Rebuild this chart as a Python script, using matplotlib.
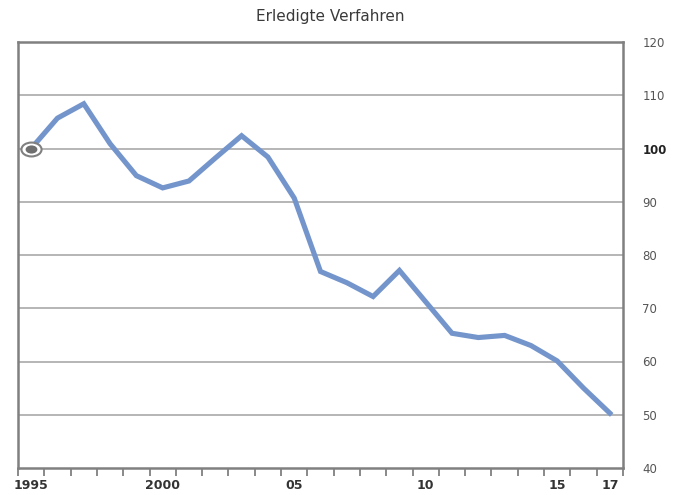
import matplotlib
matplotlib.use("Agg")
import matplotlib.pyplot as plt
import numpy as np
from matplotlib.path import Path
from matplotlib.transforms import Affine2D

plt.rcParams['font.family'] = ['DejaVu Sans']

# data (index, 1995 = 100)
years = list(range(1995, 2018))
values = [100.0, 105.7, 108.4, 100.9, 94.9, 92.6, 93.9, 98.2, 102.4, 98.4,
          90.7, 76.9, 74.8, 72.2, 77.1, 71.2, 65.3, 64.5, 64.9, 63.0,
          60.1, 55.0, 50.3]
year_labels = {1995: "1995", 2000: "2000", 2005: "05", 2010: "10",
               2015: "15", 2017: "17"}
y_ticks = [40, 50, 60, 70, 80, 90, 100, 110, 120]

title = "Erledigte Verfahren"
line_col = "#7395cc"
frame_col = "#808080"
grid_col = "#a9a9a9"
text_col = "#333333"

fig = plt.figure(figsize=(6.84, 4.95), dpi=100)
ax = fig.add_axes([18/684, 1 - 468/495, (623-18)/684, (468-42)/495])

x = np.arange(len(years))
ax.plot(x, values, color=line_col, lw=3.7, solid_joinstyle="miter", zorder=3)

# base-year marker (oval)
oval = Path.unit_circle().transformed(Affine2D().scale(1.45, 1.0))
ax.plot(x[0], values[0], marker=oval, ms=14.5, mfc="white", mec=frame_col,
        mew=1.5, zorder=4, clip_on=False)
ax.plot(x[0], values[0], marker=oval, ms=8.5, mfc="#6f6f6f", mec="none",
        zorder=5, clip_on=False)

ax.set_xlim(-0.5, len(years) - 0.5)
ax.set_ylim(40, 120)

# gridlines
for v in y_ticks[1:-1]:
    ax.axhline(v, color=grid_col, lw=1.2, zorder=1)

for s in ax.spines.values():
    s.set_color(frame_col)
    s.set_linewidth(1.8)

# x ticks: marks at band edges, labels at band centres
ax.set_xticks(np.arange(-0.5, len(years)), minor=True)
ax.tick_params(axis="x", which="minor", length=6, width=1.3, color=frame_col,
               direction="out")
lab_pos = [years.index(y) for y in year_labels]
ax.set_xticks(lab_pos)
ax.set_xticklabels(list(year_labels.values()), fontsize=9, fontweight="bold",
                   color=text_col)
ax.tick_params(axis="x", which="major", length=0, pad=8)

# y labels on the right
ax.yaxis.tick_right()
ax.set_yticks(y_ticks)
ax.set_yticklabels([str(v) for v in y_ticks], fontsize=8.5, color="#555555")
ax.tick_params(axis="y", length=0, pad=14)
for t in ax.get_yticklabels():
    if t.get_text() == "100":
        t.set_color("#222222")
        t.set_fontweight("bold")

fig.text(330/684, 1 - 17/495, title, ha="center", va="center", fontsize=11,
         color="#3a3a3a")

fig.savefig("out.png", dpi=100)
